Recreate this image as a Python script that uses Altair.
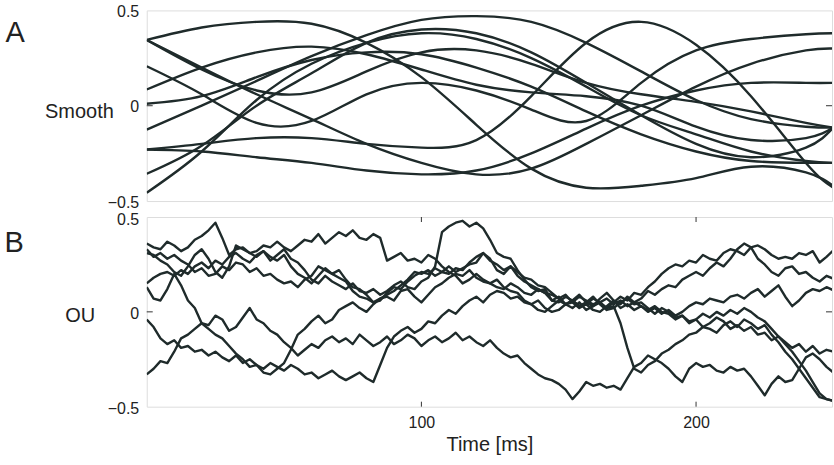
import altair as alt
import pandas as pd

# ---------------- data: panel A (smooth) ----------------
t_smooth = [0, 20, 40, 60, 80, 100, 120, 140, 160, 180, 200, 220, 240, 250]
smooth_series = {
    "s1": [0.345, 0.41, 0.44, 0.43, 0.33, 0.15, -0.10, -0.33, -0.43, -0.42, -0.38, -0.32, -0.35, -0.42],
    "s2": [0.345, 0.19, 0.08, 0.07, 0.18, 0.28, 0.29, 0.22, 0.12, 0.06, 0.02, -0.03, -0.09, -0.115],
    "s3": [0.345, 0.20, 0.06, -0.07, -0.20, -0.30, -0.36, -0.33, -0.20, -0.05, 0.10, 0.22, 0.29, 0.30],
    "s4": [0.207, 0.06, -0.09, -0.08, 0.06, 0.12, 0.08, -0.02, -0.08, 0.12, 0.29, 0.35, 0.375, 0.38],
    "s5": [-0.125, 0.00, 0.13, 0.26, 0.37, 0.45, 0.47, 0.44, 0.33, 0.18, 0.03, -0.07, -0.11, -0.115],
    "s6": [0.085, 0.20, 0.28, 0.31, 0.27, 0.19, 0.11, 0.07, 0.05, 0.00, -0.11, -0.18, -0.17, -0.115],
    "s7": [0.01, 0.05, 0.15, 0.24, 0.28, 0.27, 0.20, 0.10, -0.03, -0.15, -0.24, -0.29, -0.30, -0.30],
    "s8": [-0.23, -0.24, -0.27, -0.30, -0.34, -0.36, -0.34, -0.25, -0.12, 0.00, 0.08, 0.12, 0.12, 0.12],
    "s9": [-0.23, -0.20, -0.17, -0.17, -0.20, -0.22, -0.18, 0.05, 0.33, 0.44, 0.32, 0.05, -0.30, -0.43],
    "s10": [-0.357, -0.21, 0.00, 0.17, 0.33, 0.40, 0.38, 0.28, 0.12, -0.05, -0.20, -0.27, -0.22, -0.115],
    "s11": [-0.456, -0.24, 0.03, 0.22, 0.33, 0.38, 0.35, 0.25, 0.10, -0.05, -0.15, -0.24, -0.29, -0.30],
}

# ---------------- data: panel B (OU), sampled every 2.5 ms ----------------
t_ou = [i * 2.5 for i in range(101)]
ou_series = {
    "o1": [0.36, 0.34, 0.33, 0.37, 0.35, 0.32, 0.34, 0.38, 0.40, 0.43, 0.47, 0.39, 0.30, 0.33, 0.34, 0.31,
           0.32, 0.35, 0.34, 0.37, 0.34, 0.32, 0.35, 0.38, 0.37, 0.41, 0.36, 0.39, 0.42, 0.40, 0.43, 0.39,
           0.38, 0.41, 0.39, 0.27, 0.29, 0.31, 0.27, 0.28, 0.26, 0.30, 0.28, 0.24, 0.21, 0.19, 0.15, 0.17,
           0.20, 0.17, 0.15, 0.13, 0.12, 0.15, 0.13, 0.10, 0.09, 0.12, 0.10, 0.06, 0.05, 0.08, 0.06, 0.03,
           0.04, 0.07, 0.05, 0.02, 0.05, 0.08, 0.06, 0.10, 0.09, 0.13, 0.16, 0.20, 0.23, 0.25, 0.24, 0.27,
           0.26, 0.30, 0.28, 0.27, 0.31, 0.33, 0.32, 0.30, 0.34, 0.35, 0.33, 0.30, 0.28, 0.29, 0.28, 0.31,
           0.30, 0.32, 0.26, 0.29, 0.325],
    "o2": [0.31, 0.30, 0.27, 0.25, 0.21, 0.19, 0.24, 0.30, 0.33, 0.28, 0.21, 0.18, 0.24, 0.35, 0.33, 0.31,
           0.29, 0.32, 0.27, 0.30, 0.33, 0.28, 0.26, 0.22, 0.17, 0.15, 0.19, 0.16, 0.14, 0.12, 0.15, 0.11,
           0.10, 0.12, 0.09, 0.11, 0.14, 0.16, 0.13, 0.12, 0.16, 0.18, 0.24, 0.42, 0.45, 0.47, 0.48, 0.45,
           0.47, 0.44, 0.38, 0.31, 0.29, 0.28, 0.22, 0.17, 0.13, 0.11, 0.12, 0.06, 0.08, 0.04, 0.02, 0.05,
           0.01, 0.03, 0.05, 0.02, 0.03, -0.06, -0.19, -0.30, -0.32, -0.28, -0.26, -0.22, -0.20, -0.17, -0.15, -0.12,
           -0.11, -0.08, -0.09, -0.11, -0.07, -0.05, -0.08, -0.04, -0.06, -0.09, -0.07, -0.12, -0.16, -0.21, -0.25, -0.30,
           -0.35, -0.40, -0.45, -0.46, -0.47],
    "o3": [0.15, 0.18, 0.20, 0.21, 0.19, 0.22, 0.20, 0.24, 0.26, 0.23, 0.27, 0.25, 0.29, 0.31, 0.28, 0.26,
           0.30, 0.32, 0.29, 0.27, 0.30, 0.24, 0.20, 0.18, 0.15, 0.19, 0.23, 0.20, 0.22, 0.17, 0.13, 0.12,
           0.09, 0.05, 0.06, 0.10, 0.13, 0.12, 0.16, 0.19, 0.21, 0.20, 0.23, 0.21, 0.20, 0.23, 0.22, 0.26,
           0.29, 0.31, 0.27, 0.25, 0.22, 0.24, 0.21, 0.18, 0.17, 0.14, 0.13, 0.10, 0.07, 0.04, 0.06, 0.09,
           0.05, 0.03, 0.07, 0.10, 0.06, 0.04, 0.08, 0.05, 0.07, 0.11, 0.09, 0.12, 0.14, 0.13, 0.17, 0.19,
           0.21, 0.19, 0.23, 0.26, 0.24, 0.28, 0.33, 0.36, 0.34, 0.28, 0.25, 0.21, 0.19, 0.23, 0.24, 0.20,
           0.21, 0.18, 0.16, 0.19, 0.175],
    "o4": [0.13, 0.07, 0.06, 0.12, 0.20, 0.14, 0.06, 0.02, -0.06, -0.09, -0.12, -0.14, -0.18, -0.22, -0.25, -0.29,
           -0.28, -0.32, -0.33, -0.30, -0.27, -0.20, -0.12, -0.09, -0.05, -0.02, -0.06, -0.04, 0.01, 0.03, 0.05, 0.02,
           0.00, 0.04, 0.07, 0.08, 0.06, 0.11, 0.12, 0.08, 0.05, 0.09, 0.13, 0.15, 0.18, 0.20, 0.19, 0.22,
           0.18, 0.16, 0.15, 0.17, 0.13, 0.11, 0.10, 0.06, 0.04, 0.01, 0.00, 0.03, 0.06, 0.04, 0.05, 0.02,
           0.04, 0.01, 0.00, 0.03, 0.06, 0.02, 0.04, 0.01, 0.03, 0.00, 0.02, -0.01, 0.01, -0.02, 0.00, 0.03,
           0.05, 0.04, 0.07, 0.06, 0.05, 0.08, 0.09, 0.07, 0.10, 0.12, 0.08, 0.11, 0.14, 0.08, 0.03, 0.06,
           0.10, 0.12, 0.11, 0.13, 0.114],
    "o5": [-0.04, -0.08, -0.14, -0.17, -0.15, -0.19, -0.18, -0.21, -0.20, -0.23, -0.21, -0.24, -0.26, -0.23, -0.27, -0.25,
           -0.28, -0.30, -0.27, -0.29, -0.31, -0.28, -0.30, -0.33, -0.32, -0.35, -0.33, -0.31, -0.34, -0.36, -0.34, -0.32,
           -0.35, -0.37, -0.28, -0.19, -0.13, -0.10, -0.08, -0.11, -0.09, -0.05, -0.06, -0.02, 0.01, -0.01, 0.03, 0.06,
           0.08, 0.05, 0.09, 0.11, 0.10, 0.07, 0.08, 0.05, 0.04, 0.06, 0.02, 0.00, 0.01, 0.04, 0.06, 0.03,
           0.05, 0.08, 0.04, 0.01, 0.02, 0.05, 0.07, 0.04, 0.05, 0.02, -0.01, 0.02, 0.00, -0.03, -0.02, -0.06,
           -0.04, -0.08, -0.06, -0.03, -0.05, -0.09, -0.07, -0.10, -0.08, -0.12, -0.11, -0.15, -0.13, -0.16, -0.19, -0.17,
           -0.21, -0.18, -0.22, -0.20, -0.21],
    "o6": [-0.33, -0.30, -0.26, -0.27, -0.21, -0.14, -0.12, -0.09, -0.06, -0.07, -0.02, -0.04, -0.10, -0.08, -0.03, 0.02,
           -0.04, -0.06, -0.10, -0.12, -0.16, -0.19, -0.23, -0.20, -0.17, -0.19, -0.15, -0.13, -0.16, -0.14, -0.17, -0.12,
           -0.15, -0.18, -0.16, -0.13, -0.17, -0.15, -0.12, -0.14, -0.18, -0.15, -0.13, -0.16, -0.14, -0.11, -0.15, -0.13,
           -0.16, -0.18, -0.15, -0.19, -0.22, -0.24, -0.23, -0.27, -0.30, -0.33, -0.35, -0.36, -0.38, -0.41, -0.46, -0.42,
           -0.37, -0.39, -0.38, -0.40, -0.39, -0.41, -0.35, -0.29, -0.27, -0.23, -0.25, -0.27, -0.30, -0.34, -0.37, -0.30,
           -0.27, -0.29, -0.28, -0.31, -0.32, -0.29, -0.31, -0.30, -0.34, -0.39, -0.44, -0.38, -0.34, -0.37, -0.36, -0.30,
           -0.24, -0.22, -0.25, -0.29, -0.32],
    "o7": [0.33, 0.29, 0.31, 0.28, 0.30, 0.27, 0.25, 0.21, 0.23, 0.19, 0.20, 0.24, 0.22, 0.26, 0.25, 0.21,
           0.23, 0.19, 0.20, 0.17, 0.15, 0.16, 0.13, 0.17, 0.19, 0.24, 0.22, 0.20, 0.18, 0.16, 0.11, 0.08,
           0.07, 0.05, 0.07, 0.09, 0.11, 0.14, 0.17, 0.21, 0.20, 0.22, 0.19, 0.21, 0.24, 0.21, 0.23, 0.25,
           0.26, 0.31, 0.28, 0.22, 0.20, 0.24, 0.19, 0.16, 0.14, 0.12, 0.10, 0.09, 0.07, 0.09, 0.05, 0.08,
           0.06, 0.04, 0.05, 0.07, 0.04, 0.06, 0.03, 0.05, 0.03, 0.01, 0.03, 0.00, -0.01, -0.04, -0.02, -0.05,
           -0.04, -0.01, -0.03, 0.00, -0.02, 0.01, -0.01, 0.02, 0.00, -0.03, -0.05, -0.09, -0.13, -0.17, -0.21, -0.26,
           -0.31, -0.37, -0.43, -0.46, -0.47],
}

y_ticks = [-0.5, 0, 0.5]
x_ticks = [100, 200]

# ---------------- build tables ----------------
rows_a = [{"t": t, "v": v, "curve": k} for k, vals in smooth_series.items() for t, v in zip(t_smooth, vals)]
rows_b = [{"t": t, "v": v, "curve": k} for k, vals in ou_series.items() for t, v in zip(t_ou, vals)]
df_a = pd.DataFrame(rows_a)
df_b = pd.DataFrame(rows_b)

FONT = "Liberation Sans"
LINE = "#1f2b2b"
INK = "#222222"
W, HA, HB = 686.5, 191, 190
XDOM = [0, 249.5]

xscale = alt.Scale(domain=XDOM, nice=False, zero=False)
yscale = alt.Scale(domain=[-0.5, 0.5], nice=False, zero=False)


def y_axis(title, tx, ty, off):
    return alt.Axis(values=y_ticks, format=".1~f", ticks=False, domain=False, grid=False,
                    labelPadding=8, labelFontSize=16, labelFont=FONT, labelColor=INK,
                    labelOffset=off,
                    title=title, titleAngle=0, titleAlign="right", titleBaseline="alphabetic",
                    titleX=tx, titleY=ty, titleFontSize=20, titleFont=FONT,
                    titleFontWeight="normal", titleColor=INK)


YAX_A = y_axis("Smooth", -33.5, 107, 1)
YAX_B = y_axis("OU", -52.2, 104.7, 2)
XAX_B = alt.Axis(values=x_ticks, ticks=False, domain=False, grid=False,
                 labelPadding=8, labelFontSize=16, labelFont=FONT, labelColor=INK,
                 title="Time [ms]", titlePadding=4, titleFontSize=20, titleFont=FONT,
                 titleFontWeight="normal", titleColor=INK)


def hticks(width, yax):
    d = pd.DataFrame({"v": [0.0]})
    left = alt.Chart(d).mark_rule(color="#333", strokeWidth=1).encode(
        y=alt.Y("v:Q", scale=yscale, axis=yax), x=alt.value(0), x2=alt.value(6))
    right = alt.Chart(d).mark_rule(color="#333", strokeWidth=1).encode(
        y=alt.Y("v:Q", scale=yscale, axis=yax), x=alt.value(width - 6), x2=alt.value(width))
    return [left, right]


def letter(txt, x, y):
    return alt.Chart(pd.DataFrame({"lab": [txt]})).mark_text(
        align="left", baseline="alphabetic", fontSize=29, font=FONT, color=INK
    ).encode(x=alt.value(x), y=alt.value(y), text="lab:N")


# ---------------- panel A ----------------
lines_a = alt.Chart(df_a).mark_line(
    color=LINE, strokeWidth=2.4, interpolate="natural", clip=True
).encode(
    x=alt.X("t:Q", scale=xscale, axis=None),
    y=alt.Y("v:Q", scale=yscale, axis=YAX_A),
    detail="curve:N",
)
panel_a = alt.layer(lines_a, *hticks(W, YAX_A), letter("A", -141.5, 32)).properties(width=W, height=HA)

# ---------------- panel B ----------------
lines_b = alt.Chart(df_b).mark_line(
    color=LINE, strokeWidth=2.4, strokeJoin="round", clip=True
).encode(
    x=alt.X("t:Q", scale=xscale, axis=XAX_B),
    y=alt.Y("v:Q", scale=yscale, axis=YAX_B),
    detail="curve:N",
)
dx = pd.DataFrame({"t": x_ticks})
top_ticks = alt.Chart(dx).mark_rule(color="#333", strokeWidth=1).encode(
    x=alt.X("t:Q", scale=xscale, axis=XAX_B), y=alt.value(0), y2=alt.value(5))
bot_ticks = alt.Chart(dx).mark_rule(color="#333", strokeWidth=1).encode(
    x=alt.X("t:Q", scale=xscale, axis=XAX_B), y=alt.value(HB - 5), y2=alt.value(HB))
panel_b = alt.layer(lines_b, *hticks(W, YAX_B), top_ticks, bot_ticks, letter("B", -142.5, 35.4)).properties(
    width=W, height=HB)

chart = alt.vconcat(panel_a, panel_b, spacing=16, bounds="flush").properties(
    padding={"left": 4, "top": 2, "right": 1, "bottom": 2}
).configure_view(stroke="#333", strokeWidth=1.2).configure(background="white")

chart.save("out.html", embed_options={"renderer": "svg", "actions": False})
